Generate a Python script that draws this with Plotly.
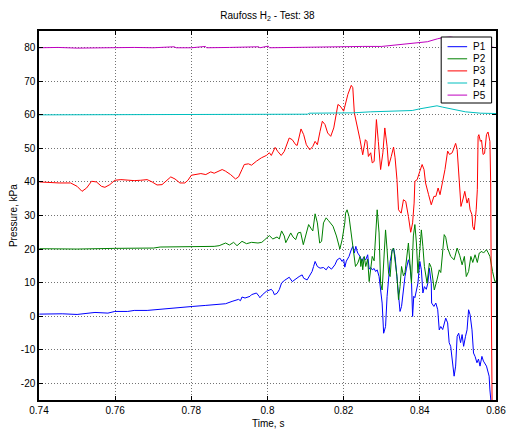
import plotly.graph_objects as go

# ---------------------------------------------------------------- data
TITLE = "Raufoss H<sub>2</sub> - Test: 38"
X_TITLE = "Time, s"
Y_TITLE = "Pressure, kPa"

SERIES_NAMES = ["P1", "P2", "P3", "P4", "P5"]
SERIES_COLORS = ["#0000ff", "#008000", "#ff0000", "#00bfbf", "#bf00bf"]

X_TICKS = [0.74, 0.76, 0.78, 0.80, 0.82, 0.84, 0.86]
X_TICK_LABELS = ["0.74", "0.76", "0.78", "0.8", "0.82", "0.84", "0.86"]
Y_TICKS = [-20, -10, 0, 10, 20, 30, 40, 50, 60, 70, 80]
Y_TICK_LABELS = ["-20", "-10", "0", "10", "20", "30", "40", "50", "60", "70", "80"]

# P1 pressure trace (kPa)
p1_t = [0.7401, 0.7461, 0.7500, 0.7525, 0.7547, 0.7581, 0.7599, 0.7633, 0.7650, 0.7684,
        0.7701, 0.7736, 0.7770, 0.7804, 0.7838, 0.7873, 0.7890, 0.7907, 0.7924, 0.7929,
        0.7933, 0.7941, 0.7954, 0.7958, 0.7967, 0.7971, 0.7978, 0.7980, 0.7986, 0.7997,
        0.8010, 0.8015, 0.8018, 0.8025, 0.8031, 0.8037, 0.8044, 0.8057, 0.8065, 0.8072,
        0.8083, 0.8091, 0.8095, 0.8104, 0.8111, 0.8117, 0.8121, 0.8125, 0.8131, 0.8138,
        0.8147, 0.8154, 0.8160, 0.8168, 0.8177, 0.8183, 0.8190, 0.8196, 0.8200, 0.8203,
        0.8207, 0.8214, 0.8220, 0.8224, 0.8228, 0.8232, 0.8234, 0.8237, 0.8243, 0.8248,
        0.8252, 0.8258, 0.8263, 0.8267, 0.8271, 0.8275, 0.8280, 0.8284, 0.8288, 0.8293,
        0.8297, 0.8301, 0.8305, 0.8310, 0.8314, 0.8318, 0.8322, 0.8327, 0.8331, 0.8335,
        0.8340, 0.8344, 0.8348, 0.8352, 0.8357, 0.8361, 0.8365, 0.8370, 0.8374, 0.8378,
        0.8381, 0.8384, 0.8387, 0.8391, 0.8395, 0.8400, 0.8404, 0.8408, 0.8412, 0.8417,
        0.8421, 0.8425, 0.8430, 0.8431, 0.8437, 0.8442, 0.8447, 0.8451, 0.8455, 0.8460,
        0.8464, 0.8468, 0.8473, 0.8477, 0.8481, 0.8485, 0.8490, 0.8494, 0.8498, 0.8502,
        0.8507, 0.8511, 0.8515, 0.8520, 0.8524, 0.8528, 0.8532, 0.8537, 0.8541, 0.8545,
        0.8550, 0.8554, 0.8558, 0.8563, 0.8567, 0.8575, 0.8578, 0.8582, 0.8584, 0.8588,
        0.8593, 0.8597, 0.8600]
p1_kpa = [0.6, 0.7, 0.5, 0.7, 1.1, 0.9, 1.4, 1.4, 1.7, 1.7,
          1.9, 2.2, 2.5, 2.9, 3.2, 3.4, 3.7, 4.4, 5.0, 4.6,
          5.7, 5.4, 5.9, 6.4, 6.7, 6.9, 5.9, 5.5, 6.3, 7.4,
          8.0, 7.3, 6.4, 6.8, 7.9, 9.9, 10.6, 11.6, 10.3, 11.0,
          11.8, 12.3, 11.3, 10.8, 12.0, 13.3, 14.8, 16.3, 14.8, 14.3,
          14.5, 13.8, 14.8, 14.0, 15.3, 16.8, 17.3, 16.3, 17.0, 14.6,
          16.4, 17.8, 19.8, 20.8, 18.8, 20.8, 19.8, 18.8, 17.8, 16.3,
          17.5, 16.8, 18.3, 14.0, 14.5, 13.8, 14.2, 13.3, 13.8, 11.8,
          7.8, 3.9, -5.1, -3.1, 5.9, 11.8, 16.3, 19.3, 20.3, 17.8,
          10.8, 5.9, 1.4, 2.9, 8.8, 11.8, 14.3, 16.8, 15.0, 10.8,
          -0.1, 5.9, 5.5, 7.8, 9.8, 16.3, 13.8, 6.9, 8.8, 8.0,
          9.8, 14.3, 9.8, 3.9, 2.9, 3.9, 1.9, -4.1, -3.1, -4.0,
          -2.1, -0.6, -2.0, -7.9, -9.0, -13.9, -17.9, -14.9, -6.0, -5.1,
          -7.9, -5.5, -9.0, -6.0, -4.1, 1.9, 0.4, -4.1, -11.0, -12.0,
          -13.9, -12.8, -14.9, -12.0, -13.4, -14.9, -16.4, -17.9, -22.0, -27.0,
          -26.0, -27.0, -26.5]

# P2 pressure trace (kPa)
p2_t = [0.7401, 0.7500, 0.7599, 0.7701, 0.7718, 0.7783, 0.7804, 0.7860, 0.7873, 0.7890,
        0.7900, 0.7911, 0.7920, 0.7933, 0.7945, 0.7958, 0.7975, 0.7985, 0.7993, 0.8005,
        0.8014, 0.8025, 0.8031, 0.8037, 0.8044, 0.8048, 0.8053, 0.8061, 0.8067, 0.8074,
        0.8080, 0.8087, 0.8094, 0.8101, 0.8108, 0.8114, 0.8119, 0.8125, 0.8131, 0.8137,
        0.8142, 0.8147, 0.8154, 0.8160, 0.8166, 0.8172, 0.8181, 0.8185, 0.8190, 0.8196,
        0.8203, 0.8205, 0.8209, 0.8214, 0.8220, 0.8226, 0.8231, 0.8237, 0.8243, 0.8245,
        0.8248, 0.8250, 0.8254, 0.8258, 0.8263, 0.8267, 0.8271, 0.8275, 0.8280, 0.8284,
        0.8288, 0.8293, 0.8297, 0.8301, 0.8305, 0.8310, 0.8314, 0.8318, 0.8322, 0.8327,
        0.8331, 0.8335, 0.8340, 0.8344, 0.8348, 0.8352, 0.8357, 0.8361, 0.8365, 0.8370,
        0.8374, 0.8378, 0.8383, 0.8387, 0.8391, 0.8395, 0.8400, 0.8404, 0.8408, 0.8412,
        0.8419, 0.8425, 0.8430, 0.8434, 0.8438, 0.8445, 0.8451, 0.8455, 0.8460, 0.8464,
        0.8468, 0.8473, 0.8481, 0.8490, 0.8498, 0.8505, 0.8511, 0.8517, 0.8522, 0.8528,
        0.8534, 0.8539, 0.8545, 0.8551, 0.8556, 0.8563, 0.8567, 0.8575, 0.8579, 0.8584,
        0.8591, 0.8597, 0.8600]
p2_kpa = [20.1, 20.0, 20.2, 20.3, 20.6, 20.6, 20.8, 20.8, 21.0, 21.8,
          21.2, 22.0, 21.0, 22.3, 21.6, 22.0, 21.8, 22.0, 22.8, 24.0,
          23.0, 23.6, 23.0, 25.4, 23.9, 21.9, 23.0, 24.8, 23.6, 22.8,
          24.8, 25.0, 21.3, 24.0, 27.3, 26.2, 25.4, 30.5, 27.8, 21.8,
          22.3, 27.8, 29.3, 28.5, 27.8, 26.8, 23.9, 22.3, 20.0, 22.8,
          27.8, 30.7, 31.7, 29.7, 23.9, 17.8, 14.8, 15.8, 17.8, 14.8,
          17.0, 13.8, 17.8, 14.8, 17.0, 10.3, 14.0, 17.8, 16.5, 23.9,
          31.7, 24.8, 9.8, 7.8, 17.8, 25.7, 19.8, 12.8, 11.8, 19.8,
          20.3, 16.8, 11.8, 4.9, 8.8, 14.8, 12.0, 13.0, 16.8, 21.8,
          15.8, 9.8, 23.9, 27.3, 21.8, 12.8, 19.8, 25.7, 20.8, 14.8,
          9.8, 15.8, 14.5, 11.8, 7.8, 10.8, 13.8, 13.0, 19.8, 24.3,
          23.5, 20.3, 17.8, 16.8, 20.3, 18.0, 15.3, 17.8, 11.8, 13.3,
          17.8, 16.0, 18.3, 16.0, 18.8, 19.3, 18.8, 19.8, 19.0, 17.8,
          13.3, 10.3, 10.5]

# P3 pressure trace (kPa)
p3_t = [0.7401, 0.7427, 0.7453, 0.7483, 0.7500, 0.7513, 0.7525, 0.7538, 0.7551, 0.7564,
        0.7573, 0.7586, 0.7599, 0.7615, 0.7633, 0.7650, 0.7667, 0.7684, 0.7697, 0.7710,
        0.7723, 0.7736, 0.7746, 0.7757, 0.7770, 0.7783, 0.7791, 0.7800, 0.7813, 0.7825,
        0.7838, 0.7851, 0.7860, 0.7873, 0.7881, 0.7890, 0.7903, 0.7916, 0.7924, 0.7933,
        0.7939, 0.7950, 0.7958, 0.7971, 0.7984, 0.7997, 0.8005, 0.8010, 0.8020, 0.8027,
        0.8036, 0.8044, 0.8057, 0.8065, 0.8074, 0.8078, 0.8088, 0.8095, 0.8102, 0.8111,
        0.8119, 0.8125, 0.8131, 0.8138, 0.8144, 0.8151, 0.8158, 0.8166, 0.8174, 0.8185,
        0.8191, 0.8200, 0.8211, 0.8220, 0.8224, 0.8228, 0.8237, 0.8243, 0.8250, 0.8257,
        0.8261, 0.8265, 0.8271, 0.8275, 0.8280, 0.8286, 0.8291, 0.8297, 0.8303, 0.8308,
        0.8314, 0.8318, 0.8325, 0.8331, 0.8335, 0.8340, 0.8344, 0.8351, 0.8357, 0.8363,
        0.8370, 0.8376, 0.8381, 0.8385, 0.8387, 0.8393, 0.8400, 0.8406, 0.8411, 0.8415,
        0.8423, 0.8430, 0.8437, 0.8442, 0.8448, 0.8453, 0.8460, 0.8466, 0.8473, 0.8478,
        0.8485, 0.8494, 0.8498, 0.8502, 0.8508, 0.8514, 0.8518, 0.8524, 0.8528, 0.8532,
        0.8537, 0.8539, 0.8543, 0.8548, 0.8551, 0.8553, 0.8555, 0.8559, 0.8562, 0.8566,
        0.8570, 0.8575, 0.8579, 0.8584, 0.8586, 0.8588, 0.8590]
p3_kpa = [40.0, 39.8, 39.7, 39.7, 38.7, 37.2, 38.2, 40.2, 40.0, 38.7,
          38.4, 39.2, 40.5, 40.7, 40.5, 40.4, 40.5, 40.7, 40.0, 39.1,
          39.2, 40.5, 41.5, 40.9, 39.7, 39.7, 40.5, 42.0, 42.2, 42.5,
          42.2, 43.0, 42.6, 43.2, 43.7, 43.2, 42.2, 40.9, 41.5, 43.7,
          45.2, 45.4, 45.0, 46.2, 47.2, 47.9, 48.7, 47.9, 50.3, 49.1,
          47.9, 49.1, 53.1, 52.6, 51.1, 50.9, 55.8, 54.1, 51.1, 49.6,
          50.6, 52.1, 51.1, 55.1, 58.1, 57.1, 54.6, 53.6, 56.1, 63.1,
          62.6, 61.1, 66.1, 68.8, 68.1, 60.6, 56.1, 52.6, 48.1, 52.6,
          52.1, 47.6, 48.7, 45.7, 46.1, 58.6, 52.1, 43.7, 48.7, 56.1,
          50.6, 44.7, 47.6, 50.4, 47.2, 40.7, 31.7, 30.7, 34.7, 34.2,
          29.7, 25.0, 27.8, 33.7, 40.2, 40.7, 43.2, 45.2, 43.7, 39.7,
          36.2, 33.2, 35.7, 35.7, 38.2, 36.2, 40.2, 43.7, 49.2, 48.2,
          48.7, 51.5, 49.7, 41.7, 32.7, 35.2, 37.2, 33.7, 35.2, 31.7,
          30.2, 26.7, 25.7, 31.7, 37.7, 53.6, 54.1, 52.1, 52.5, 48.2,
          48.5, 54.1, 54.9, 52.1, 40.0, 0.0, -30.0]

# P4 pressure trace (kPa)
p4_t = [0.7400, 0.7500, 0.7600, 0.7700, 0.7800, 0.7900, 0.8000, 0.8105, 0.8110, 0.8200,
        0.8224, 0.8270, 0.8350, 0.8380, 0.8400, 0.8430, 0.8445, 0.8460, 0.8490, 0.8520,
        0.8560, 0.8600]
p4_kpa = [60.0, 60.0, 60.05, 60.0, 60.05, 60.1, 60.1, 60.2, 60.5, 60.5,
          60.6, 60.9, 61.1, 61.3, 61.8, 62.5, 62.7, 62.3, 61.6, 60.9,
          60.5, 60.4]

# P5 pressure trace (kPa)
p5_t = [0.7400, 0.7450, 0.7500, 0.7550, 0.7600, 0.7650, 0.7700, 0.7755, 0.7760, 0.7800,
        0.7837, 0.7840, 0.7900, 0.7977, 0.7980, 0.8002, 0.8005, 0.8050, 0.8100, 0.8150,
        0.8200, 0.8250, 0.8300, 0.8344, 0.8395, 0.8420, 0.8447, 0.8460, 0.8480, 0.8520,
        0.8560, 0.8600]
p5_kpa = [80.0, 80.1, 79.9, 80.0, 80.0, 80.1, 80.0, 80.3, 80.0, 80.0,
          80.4, 80.0, 80.1, 80.3, 80.0, 80.5, 80.0, 80.1, 80.2, 80.2,
          80.3, 80.4, 80.4, 80.9, 81.3, 81.8, 82.7, 83.0, 83.2, 82.5,
          80.8, 80.0]

SERIES_T = [p1_t, p2_t, p3_t, p4_t, p5_t]
SERIES_KPA = [p1_kpa, p2_kpa, p3_kpa, p4_kpa, p5_kpa]

# ---------------------------------------------------------------- figure
W, H = 515, 430
ML, MR, MT, MB = 39, 9, 31, 30
PW, PH = W - ML - MR, H - MT - MB
FONT = dict(family="Liberation Sans, Arial, sans-serif", size=10, color="#000000")

fig = go.Figure()
for name, color, t, p in zip(SERIES_NAMES, SERIES_COLORS, SERIES_T, SERIES_KPA):
    fig.add_trace(go.Scatter(x=t, y=p, mode="lines", name=name,
                             line=dict(color=color, width=1), showlegend=False))

axis_common = dict(
    showline=True, linecolor="#000000", linewidth=1.5, mirror="ticks",
    ticks="inside", ticklen=4, tickcolor="#000000", tickwidth=1,
    showgrid=True, gridcolor="rgba(0,0,0,0.55)", gridwidth=1, griddash="1px,2px",
    zeroline=False, tickfont=FONT, ticklabeloverflow="allow",
)
fig.update_xaxes(range=[0.74, 0.86], tickvals=X_TICKS, ticktext=X_TICK_LABELS, **axis_common)
fig.update_yaxes(range=[-25, 85], tickvals=Y_TICKS, ticktext=Y_TICK_LABELS, **axis_common)


def px_x(px):
    return (px - ML) / PW


def px_y(py):
    return (H - MB - py) / PH


# legend box drawn over the traces
shapes = [dict(type="rect", xref="paper", yref="paper",
               x0=px_x(450), x1=px_x(501.5), y0=px_y(103), y1=px_y(37),
               fillcolor="#ffffff", line=dict(color="#000000", width=1), layer="above")]
annotations = []
row0, step = 46.7, 12.1
for i, (name, color) in enumerate(zip(SERIES_NAMES, SERIES_COLORS)):
    yy = px_y(row0 + i * step)
    shapes.append(dict(type="line", xref="paper", yref="paper",
                       x0=px_x(456.5), x1=px_x(476.5), y0=yy, y1=yy,
                       line=dict(color=color, width=1), layer="above"))
    annotations.append(dict(text=name, xref="paper", yref="paper", x=px_x(480.5), y=yy,
                            xanchor="left", yanchor="middle", showarrow=False, font=FONT))

annotations.append(dict(text=X_TITLE, xref="paper", yref="paper", x=0.5, y=px_y(423),
                        xanchor="center", yanchor="middle", showarrow=False, font=FONT))
annotations.append(dict(text=Y_TITLE, xref="paper", yref="paper", x=px_x(13), y=0.5,
                        xanchor="center", yanchor="middle", textangle=-90,
                        showarrow=False, font=FONT))

fig.update_layout(
    width=W, height=H,
    margin=dict(l=ML, r=MR, t=MT, b=MB, pad=0),
    paper_bgcolor="#ffffff", plot_bgcolor="#ffffff",
    font=FONT,
    title=dict(text=TITLE, x=0.5, xref="paper", y=1 - 15 / H, yref="container",
               xanchor="center", yanchor="middle", font=FONT),
    shapes=shapes, annotations=annotations,
    showlegend=False,
)

fig.write_html("out.html")
